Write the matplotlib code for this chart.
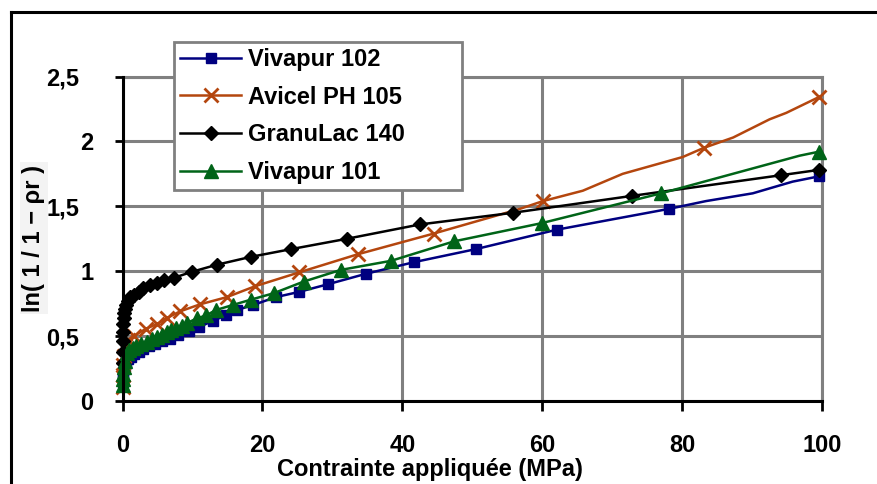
import numpy as np
import matplotlib.pyplot as plt
from matplotlib.lines import Line2D
from matplotlib.transforms import ScaledTranslation

plt.rcParams['font.family'] = ['Liberation Sans', 'DejaVu Sans']
plt.rcParams['font.weight'] = 'bold'

# values (x = MPa, y = ln(1/(1-rho_r)))
# *_x / *_y carry a marker, *_bx / *_by are line-only bend points
v102_x = [0, 0.05, 0.1, 0.2, 0.3, 0.5, 0.8, 1.2, 1.7, 2.3, 3, 3.8, 4.7, 5.7, 6.8,
          8, 9.5, 11, 13, 14.8, 16.3, 18.7, 21.9, 25.2, 29.4, 34.8, 41.7, 50.5,
          62.1, 78.1, 99.5]
v102_y = [0.15, 0.19, 0.22, 0.25, 0.28, 0.30, 0.32, 0.34, 0.36, 0.38, 0.40, 0.42,
          0.44, 0.46, 0.48, 0.51, 0.54, 0.57, 0.62, 0.66, 0.70, 0.74, 0.80, 0.84,
          0.90, 0.98, 1.07, 1.17, 1.32, 1.48, 1.73]
v102_bx = [83.4, 90.1, 95.8]
v102_by = [1.54, 1.60, 1.69]

avicel_x = [0, 0.05, 0.1, 0.2, 0.4, 0.8, 1.6, 3.3, 5.0, 6.4, 8.2, 11.1, 14.9, 19,
            25.2, 33.6, 44.5, 60.1, 83.1, 99.5]
avicel_y = [0.11, 0.20, 0.28, 0.35, 0.42, 0.47, 0.50, 0.555, 0.595, 0.64, 0.69,
            0.745, 0.80, 0.885, 0.99, 1.13, 1.29, 1.54, 1.95, 2.34]
avicel_bx = [56.8, 65.8, 71.5, 80.1, 87.3, 92.5, 94.9]
avicel_by = [1.48, 1.62, 1.75, 1.88, 2.03, 2.17, 2.22]

granu_x = [0, 0.02, 0.05, 0.08, 0.12, 0.18, 0.25, 0.35, 0.5, 0.75, 1.1, 1.6, 2.3,
           3.0, 3.9, 4.9, 6.0, 7.4, 9.9, 13.5, 18.3, 24.1, 32.1, 42.5, 55.8,
           72.8, 94.2, 99.5]
granu_y = [0.29, 0.38, 0.46, 0.53, 0.59, 0.64, 0.68, 0.71, 0.74, 0.77, 0.80, 0.82,
           0.84, 0.87, 0.89, 0.91, 0.93, 0.95, 0.995, 1.05, 1.11, 1.17, 1.25,
           1.36, 1.45, 1.58, 1.74, 1.78]
granu_bx = [97.5]
granu_by = [1.765]

v101_x = [0, 0.05, 0.1, 0.2, 0.35, 0.6, 1.0, 1.5, 2.0, 2.7, 3.5, 4.2, 4.9, 5.6,
          6.3, 7.0, 7.7, 8.5, 9.2, 10.6, 12, 13.3, 15.8, 18.3, 21.6, 25.9, 31.2,
          38.4, 47.4, 59.9, 77, 99.5]
v101_y = [0.12, 0.17, 0.21, 0.26, 0.31, 0.37, 0.39, 0.41, 0.42, 0.44, 0.456,
          0.475, 0.495, 0.51, 0.53, 0.545, 0.56, 0.58, 0.60, 0.636, 0.66, 0.70,
          0.74, 0.78, 0.83, 0.92, 1.01, 1.08, 1.23, 1.37, 1.60, 1.92]
v101_bx = [96.8]
v101_by = [1.89]

x_ticks = [0, 20, 40, 60, 80, 100]
y_ticks = [0, 0.5, 1, 1.5, 2, 2.5]
y_tick_labels = ['0', '0,5', '1', '1,5', '2', '2,5']

W, H = 877, 484
fig = plt.figure(figsize=(W / 100, H / 100), dpi=100)
ax = fig.add_axes([122.5 / W, 1 - 401 / H, (822 - 122.5) / W, (401 - 76.5) / H])


def draw(x, y, bx, by, color, marker, ms, label, mew=1.0):
    xs = np.concatenate([x, bx])
    ys = np.concatenate([y, by])
    order = np.argsort(xs, kind='stable')
    marked = list(np.where(order < len(x))[0])
    ax.plot(xs[order], ys[order], color=color, lw=1.8, marker=marker, ms=ms,
            mfc=color, mec=color, mew=mew, markevery=marked, label=label,
            clip_on=False, zorder=3)


draw(v102_x, v102_y, v102_bx, v102_by, '#000080', 's', 7.5, 'Vivapur 102')
draw(avicel_x, avicel_y, avicel_bx, avicel_by, '#B4460E', 'x', 10, 'Avicel PH 105', mew=2)
draw(granu_x, granu_y, granu_bx, granu_by, 'black', 'D', 7.5, 'GranuLac 140')
draw(v101_x, v101_y, v101_bx, v101_by, '#006418', '^', 10, 'Vivapur 101')

ax.set_xlim(0, 100)
ax.set_ylim(0, 2.5)
ax.set_xticks(x_ticks)
ax.set_yticks(y_ticks)
ax.set_yticklabels(y_tick_labels)
ax.grid(True, color='#808080', lw=2.2)
ax.set_axisbelow(True)

for side in ['top', 'right']:
    ax.spines[side].set_color('#808080')
    ax.spines[side].set_linewidth(2.2)
for side in ['left', 'bottom']:
    ax.spines[side].set_color('black')
    ax.spines[side].set_linewidth(2.2)
    ax.spines[side].set_zorder(4)

ax.tick_params(axis='x', length=7, width=2, pad=17, labelsize=17)
ax.tick_params(axis='y', length=6, width=2, pad=15, labelsize=17)

# decimal labels sit further left in the original
for lab in ax.get_yticklabels():
    if ',' in lab.get_text():
        lab.set_transform(lab.get_transform() + ScaledTranslation(-0.14, 0, fig.dpi_scale_trans))

ax.set_xlabel('Contrainte appliquée (MPa)', fontsize=17, fontweight='bold')
ax.xaxis.set_label_coords(0.4396, -0.176)

fig.text(34 / W, 1 - 238 / H, 'ln( 1 / 1 − ρr )', rotation=90, ha='center',
         va='center', fontsize=17, fontweight='bold',
         bbox=dict(facecolor='#f3f3f3', edgecolor='none', pad=2))

leg = ax.legend(loc='upper left',
                bbox_to_anchor=(174 / W, 1 - 190 / H, 288 / W, 148 / H),
                bbox_transform=fig.transFigure, mode='expand', fancybox=False,
                framealpha=1, edgecolor='#808080', borderaxespad=0, fontsize=17,
                handlelength=2.6, handletextpad=0.3, labelspacing=0.62,
                borderpad=0.25)
leg.get_frame().set_linewidth(2)
leg.set_zorder(5)

# outer chart border (top and left visible)
fig.add_artist(Line2D([11 / W, 11 / W], [0, 1 - 12 / H], color='black', lw=2.2,
                      transform=fig.transFigure))
fig.add_artist(Line2D([11 / W, 1], [1 - 12 / H, 1 - 12 / H], color='black', lw=2.2,
                      transform=fig.transFigure))

fig.savefig('out.png', dpi=100)
